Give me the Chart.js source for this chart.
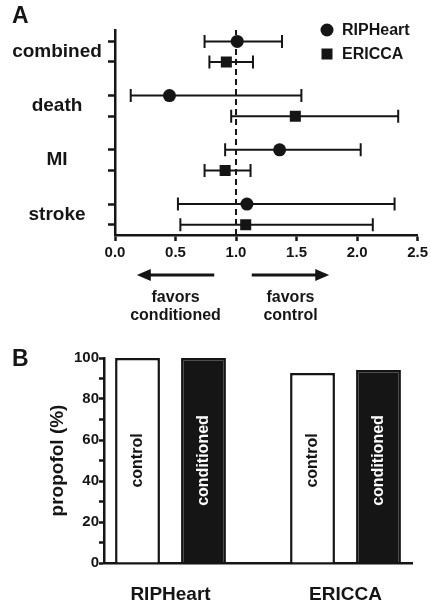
<!DOCTYPE html>
<html>
<head>
<meta charset="utf-8">
<script src="https://cdn.jsdelivr.net/npm/chart.js@4.4.1/dist/chart.umd.min.js"></script>
<style>
  html, body { margin: 0; padding: 0; background: #fff; }
  #wrap { position: relative; width: 431px; height: 608px; overflow: hidden; }
  canvas { position: absolute; left: 0; }
  #forest { top: 0; }
  #bars { top: 335px; }
</style>
</head>
<body>
<div id="wrap">
  <canvas id="forest" width="431" height="335"></canvas>
  <canvas id="bars" width="431" height="273"></canvas>
</div>
<script>
// Panel A - relative risk with 95% CI, per outcome
const outcomes = ['combined', 'death', 'MI', 'stroke'];
const ripEst = [1.01, 0.45, 1.36, 1.09];
const ripLo  = [0.74, 0.13, 0.91, 0.52];
const ripHi  = [1.38, 1.54, 2.03, 2.31];
const ericEst = [0.92, 1.49, 0.91, 1.08];
const ericLo  = [0.78, 0.96, 0.74, 0.54];
const ericHi  = [1.14, 2.34, 1.12, 2.13];
const rrTicks = [0, 0.5, 1, 1.5, 2, 2.5];

// Panel B - propofol use (%)
const trials = ['RIPHeart', 'ERICCA'];
const controlPct = [100, 92.7];
const conditionedPct = [100, 94.1];
const pctTicks = [0, 10, 20, 30, 40, 50, 60, 70, 80, 90, 100];

const INK = '#151515';
const FONT = '"Liberation Sans", Arial, Helvetica, sans-serif';
Chart.defaults.font.family = FONT;
Chart.defaults.font.weight = 'bold';
Chart.defaults.color = INK;

// ---------- panel A ----------
const dodge = 0.19;
const yMinA = -0.38, yMaxA = 3.4;
const rowY = i => outcomes.length - 1 - i;

function ciSet(lo, hi, y) {
    return {
        type: 'line',
        data: [{ x: lo, y: y }, { x: hi, y: y }],
        showLine: true,
        borderColor: INK,
        borderWidth: 2,
        pointStyle: 'line',
        pointRotation: 90,
        pointRadius: 6.5,
        pointHoverRadius: 6.5,
        pointBorderColor: INK,
        pointBorderWidth: 2
    };
}

const ciSets = [];
outcomes.forEach((o, i) => {
    ciSets.push(ciSet(ripLo[i], ripHi[i], rowY(i) + dodge));
    ciSets.push(ciSet(ericLo[i], ericHi[i], rowY(i) - dodge));
});

const forestDecor = {
    id: 'forestDecor',
    afterDraw(chart) {
        const ctx = chart.ctx;
        const xs = chart.scales.x, ys = chart.scales.y;
        ctx.save();
        ctx.fillStyle = INK;
        ctx.strokeStyle = INK;
        ctx.textBaseline = 'middle';

        // outcome names
        ctx.font = 'bold 19px ' + FONT;
        ctx.textAlign = 'center';
        outcomes.forEach((o, i) => {
            ctx.fillText(o, 57, ys.getPixelForValue(rowY(i)));
        });

        // legend
        ctx.textAlign = 'left';
        ctx.font = 'bold 16px ' + FONT;
        ctx.beginPath();
        ctx.arc(327, 30, 6.5, 0, Math.PI * 2);
        ctx.fill();
        ctx.fillText('RIPHeart', 342, 31);
        ctx.fillRect(321.5, 48.5, 11, 11);
        ctx.fillText('ERICCA', 342, 55);

        // arrows under the axis
        const ay = 275;
        function arrow(from, to) {
            const x0 = xs.getPixelForValue(from), x1 = xs.getPixelForValue(to);
            const dir = Math.sign(x1 - x0);
            ctx.lineWidth = 3;
            ctx.beginPath();
            ctx.moveTo(x0, ay);
            ctx.lineTo(x1 - dir * 10, ay);
            ctx.stroke();
            ctx.beginPath();
            ctx.moveTo(x1, ay);
            ctx.lineTo(x1 - dir * 14, ay - 6);
            ctx.lineTo(x1 - dir * 14, ay + 6);
            ctx.closePath();
            ctx.fill();
        }
        arrow(0.82, 0.18);
        arrow(1.13, 1.77);

        ctx.textAlign = 'center';
        ctx.font = 'bold 16px ' + FONT;
        const lx = xs.getPixelForValue(0.5), rx = xs.getPixelForValue(1.45);
        ctx.fillText('favors', lx, 298);
        ctx.fillText('conditioned', lx, 316);
        ctx.fillText('favors', rx, 298);
        ctx.fillText('control', rx, 316);

        // panel letter
        ctx.textAlign = 'left';
        ctx.font = 'bold 23px ' + FONT;
        ctx.fillText('A', 12, 17);
        ctx.restore();
    }
};

new Chart(document.getElementById('forest'), {
    type: 'scatter',
    data: {
        datasets: [
            {
                label: 'RIPHeart',
                data: ripEst.map((x, i) => ({ x: x, y: rowY(i) + dodge })),
                pointStyle: 'circle',
                pointRadius: 6.5,
                pointHoverRadius: 6.5,
                backgroundColor: INK,
                borderColor: INK,
                borderWidth: 0
            },
            {
                label: 'ERICCA',
                data: ericEst.map((x, i) => ({ x: x, y: rowY(i) - dodge })),
                pointStyle: 'rect',
                pointRadius: 7.8,
                pointHoverRadius: 7.8,
                backgroundColor: INK,
                borderColor: INK,
                borderWidth: 0
            },
            ...ciSets,
            {
                type: 'line',
                data: [{ x: 1, y: yMinA }, { x: 1, y: yMaxA }],
                showLine: true,
                borderColor: INK,
                borderWidth: 2,
                borderDash: [6, 4],
                pointRadius: 0,
                clip: false
            }
        ]
    },
    options: {
        responsive: false,
        animation: false,
        devicePixelRatio: 1,
        layout: { padding: { top: 30, right: 10, left: 0, bottom: 0 } },
        plugins: { legend: { display: false }, tooltip: { enabled: false } },
        scales: {
            x: {
                type: 'linear',
                min: 0,
                max: 2.5,
                afterBuildTicks: s => { s.ticks = rrTicks.map(v => ({ value: v })); },
                ticks: {
                    callback: v => Number(v).toFixed(1),
                    font: { size: 15, weight: 'bold' },
                    color: INK,
                    padding: 3,
                    maxRotation: 0,
                    autoSkip: false
                },
                grid: { display: true, drawOnChartArea: false, drawTicks: true, tickLength: 6, tickWidth: 2.5, tickColor: INK },
                border: { display: true, color: INK, width: 2.5 },
                afterFit: s => { s.height = 100; }
            },
            y: {
                type: 'linear',
                min: yMinA,
                max: yMaxA,
                afterBuildTicks: s => {
                    const t = [];
                    outcomes.forEach((o, i) => {
                        t.push({ value: rowY(i) + dodge });
                        t.push({ value: rowY(i) - dodge });
                    });
                    s.ticks = t;
                },
                ticks: { display: false },
                grid: { display: true, drawOnChartArea: false, drawTicks: true, tickLength: 7, tickWidth: 2.5, tickColor: INK },
                border: { display: true, color: INK, width: 2.5 },
                afterFit: s => { s.width = 115; }
            }
        }
    },
    plugins: [forestDecor]
});

// ---------- panel B ----------
const barDecor = {
    id: 'barDecor',
    afterDatasetsDraw(chart) {
        const ctx = chart.ctx;
        const ys = chart.scales.y;
        ctx.save();
        ctx.font = 'bold 16px ' + FONT;
        ctx.textAlign = 'center';
        ctx.textBaseline = 'middle';
        chart.data.datasets.forEach((ds, d) => {
            chart.getDatasetMeta(d).data.forEach(bar => {
                ctx.save();
                ctx.translate(bar.x, ys.getPixelForValue(50));
                ctx.rotate(-Math.PI / 2);
                ctx.fillStyle = d === 0 ? INK : '#fff';
                ctx.fillText(ds.label, 0, 0);
                ctx.restore();
            });
        });
        ctx.fillStyle = INK;
        ctx.textAlign = 'left';
        ctx.font = 'bold 23px ' + FONT;
        ctx.fillText('B', 12, 25);
        ctx.restore();
    }
};

new Chart(document.getElementById('bars'), {
    type: 'bar',
    data: {
        datasets: [
            {
                label: 'control',
                data: trials.map((t, i) => ({ x: i + 1, y: controlPct[i] })),
                backgroundColor: '#fff',
                borderColor: INK,
                borderWidth: 2.5,
                categoryPercentage: 0.754,
                barPercentage: 0.68
            },
            {
                label: 'conditioned',
                data: trials.map((t, i) => ({ x: i + 1, y: conditionedPct[i] })),
                backgroundColor: INK,
                borderColor: INK,
                borderWidth: 2.5,
                categoryPercentage: 0.754,
                barPercentage: 0.68
            }
        ]
    },
    options: {
        responsive: false,
        animation: false,
        devicePixelRatio: 1,
        layout: { padding: { top: 23, right: 19, left: 0, bottom: 0 } },
        plugins: { legend: { display: false }, tooltip: { enabled: false } },
        scales: {
            x: {
                type: 'linear',
                offset: false,
                min: 0.62,
                max: 2.38,
                afterBuildTicks: s => { s.ticks = trials.map((t, i) => ({ value: i + 1 })); },
                ticks: {
                    callback: v => trials[Math.round(v) - 1],
                    font: { size: 19, weight: 'bold' },
                    color: INK,
                    padding: 20,
                    maxRotation: 0,
                    autoSkip: false
                },
                grid: { display: false, drawTicks: false },
                border: { display: true, color: INK, width: 2.5 },
                afterFit: s => { s.height = 45; }
            },
            y: {
                type: 'linear',
                min: 0,
                max: 100,
                afterBuildTicks: s => { s.ticks = pctTicks.map(v => ({ value: v })); },
                ticks: {
                    callback: v => (v % 20 === 0 ? String(v) : ''),
                    font: { size: 15, weight: 'bold' },
                    color: INK,
                    padding: 0,
                    autoSkip: false
                },
                grid: { display: true, drawOnChartArea: false, drawTicks: true, tickLength: 5, tickWidth: 2.5, tickColor: INK },
                border: { display: true, color: INK, width: 2.5 },
                title: {
                    display: true,
                    text: 'propofol (%)',
                    font: { size: 19, weight: 'bold' },
                    color: INK,
                    padding: { top: 46, bottom: 0 }
                },
                afterFit: s => { s.width = 104; }
            }
        }
    },
    plugins: [barDecor]
});
</script>
</body>
</html>
